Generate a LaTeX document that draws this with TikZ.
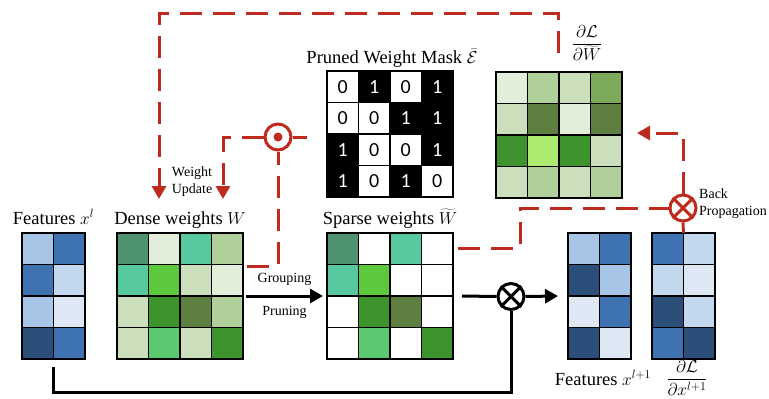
\documentclass[tikz,border=0pt]{standalone}
\usepackage{fontspec}
\setmainfont{Liberation Serif}
\newfontfamily\digitfont{Carlito}
\usetikzlibrary{arrows.meta,calc}
\definecolor{bL}{HTML}{A7C5E6}
\definecolor{bM}{HTML}{3E72B0}
\definecolor{bP}{HTML}{C3D8EC}
\definecolor{bV}{HTML}{DDE8F4}
\definecolor{bD}{HTML}{2C4F7A}
\definecolor{gA}{HTML}{4F9370}
\definecolor{gB}{HTML}{E2EDDA}
\definecolor{gC}{HTML}{58C89E}
\definecolor{gD}{HTML}{B1CF9A}
\definecolor{gE}{HTML}{5CC83C}
\definecolor{gF}{HTML}{CCDFBC}
\definecolor{gG}{HTML}{3E942C}
\definecolor{gH}{HTML}{5F7F40}
\definecolor{gI}{HTML}{5CC870}
\definecolor{gJ}{HTML}{7DAA5A}
\definecolor{gK}{HTML}{ADEB70}
\definecolor{rd}{HTML}{BF2A1E}
\tikzset{
  cell/.style={draw=black,line width=1.3pt},
  mbox/.style={draw=black,line width=1.8pt,inner sep=0pt,outer sep=0pt,minimum width=#1,minimum height=126pt},
  blk/.style={draw=black,line width=3pt},
  rline/.style={draw=rd,line width=3pt},
  rdash/.style={rline,dash pattern=on 22pt off 11pt},
  arrowtip/.style={-{Triangle[length=13pt,width=14pt]}},
  ttl/.style={font=\fontsize{18.5}{22}\selectfont,inner sep=0pt},
  smalllbl/.style={font=\fontsize{14}{17}\selectfont,inner sep=0pt},
  opcircle/.style={circle,minimum size=26pt,inner sep=0pt,line width=3pt},
}
\newcommand\cellgrid[5]{%
  \foreach \cc [count=\i from 0] in {#5}{%
    \pgfmathtruncatemacro\cx{mod(\i,#4)}%
    \pgfmathtruncatemacro\cy{div(\i,#4)}%
    \filldraw[cell,fill=\cc] ({#2+\cx*31.5},{#3+\cy*31.5}) rectangle ++(31.5,31.5);
  }
  \node[mbox=#4*31.5pt] (#1) at ({#2+#4*15.75},{#3+63}) {};
}
\begin{document}
\begin{tikzpicture}[x=1pt,y=-1pt]
\useasboundingbox (0,0) rectangle (769,399);

% matrices
\cellgrid{featIn}{22}{233}{2}{bL,bM,bM,bP,bL,bV,bD,bM}
\cellgrid{dense}{117}{233}{4}{gA,gB,gC,gD,gC,gE,gF,gB,gF,gG,gH,gD,gF,gI,gF,gG}
\cellgrid{sparse}{327}{233}{4}{gA,white,gC,white,gC,gE,white,white,white,gG,gH,white,white,gI,white,gG}
\cellgrid{featOut}{568}{233}{2}{bL,bM,bD,bL,bV,bM,bD,bV}
\cellgrid{gradX}{652}{233}{2}{bM,bP,bP,bV,bD,bP,bM,bD}
\cellgrid{gradW}{496}{72}{4}{gB,gD,gF,gJ,gF,gH,gB,gH,gG,gK,gG,gF,gF,gD,gF,gD}

% mask
\foreach \v [count=\i from 0] in {0,1,0,1,0,0,1,1,1,0,0,1,1,0,1,0}{%
  \pgfmathtruncatemacro\cx{mod(\i,4)}%
  \pgfmathtruncatemacro\cy{div(\i,4)}%
  \ifnum\v=1 \def\fc{black}\def\tc{white}\else\def\fc{white}\def\tc{black}\fi
  \node[cell,fill=\fc,text=\tc,minimum size=31.5pt,inner sep=0pt,outer sep=0pt,anchor=north west,
        font=\digitfont\fontsize{20}{20}\selectfont] (m\i) at ({327+\cx*31.5},{71+\cy*31.5}) {\v};
}
\node[mbox=126pt] (mask) at (390,134) {};

% titles
\node[ttl,anchor=base] (tFeatIn) at (53.5,224) {Features $x^l$};
\node[ttl,anchor=base] (tDense) at (180,224) {Dense weights $W$};
\node[ttl,anchor=base] (tSparse) at (390,224) {Sparse weights $\widetilde{W}$};
\node[ttl,anchor=base] (tMask) at (392,63) {Pruned Weight Mask $\bar{\mathcal{E}}$};
\node[ttl,anchor=base] (tFeatOut) at (603,385) {Features $x^{l+1}$};
\node[ttl] (tGradW) at (587,43) {$\displaystyle\frac{\partial\mathcal{L}}{\partial\widetilde{W}}$};
\node[ttl,font=\fontsize{17.5}{20}\selectfont] (tGradX) at (687,378) {$\displaystyle\frac{\partial\mathcal{L}}{\partial x^{l+1}}$};

% operators
\node[opcircle,draw=black] (mul) at (511,296.5) {};
\draw[line width=3pt,black] (mul.45) -- (mul.225) (mul.135) -- (mul.-45);
\node[opcircle,draw=rd] (bp) at (683,208) {};
\draw[line width=3pt,rd] (bp.45) -- (bp.225) (bp.135) -- (bp.-45);
\node[opcircle,draw=rd] (od) at (278,137) {};
\fill[rd] (od.center) circle (4.5pt);

% black connectors
\draw[blk,arrowtip] ([xshift=3pt]dense.east) -- ([xshift=-4pt]sparse.west)
  node[smalllbl,midway,above=9pt] (lGroup) {Grouping}
  node[smalllbl,midway,below=9pt] (lPrune) {Pruning};
\draw[blk] ([xshift=9pt]sparse.east) -- (mul.west);
\draw[blk,arrowtip] (mul.east) -- ([xshift=-10pt]featOut.west);
\coordinate (fs) at ([yshift=-8pt]featIn.south);
\coordinate (bot) at (0,392);
\draw[blk] (fs) -- (fs |- bot) -| (mul.south);

% red connectors
\coordinate (wu1) at (159,199);
\coordinate (wu2) at (223,199);
\coordinate (topline) at (0,13);
\coordinate (gw0) at ([shift={(-1pt,19pt)}]gradW.north);
\draw[rdash,arrowtip] (gw0) |- (wu1 |- topline) -- (wu1);
\draw[rdash] ([shift={(4pt,30pt)}]dense.east) -| (od.south);
\draw[rdash,arrowtip] (od.west) -| (wu2);
\coordinate (odend) at (307,137);
\draw[rline] (od.east) -- (odend);
\coordinate (knee) at (520,208);
\draw[rdash] ([shift={(5pt,48pt)}]sparse.east) -| (knee) -- (bp.west);
\draw[rline] (bp.south) -- (gradX.north);
\coordinate (bpt) at ([xshift=15pt,yshift=2pt]gradW.east);
\draw[rdash,arrowtip] (bp.north) |- (bpt);

% small labels
\node[smalllbl,align=center] (lWU) at (192,182) {Weight\\Update};
\node[smalllbl,align=left,anchor=west] (lBP) at (699,204) {Back\\Propagation};
\end{tikzpicture}
\end{document}
